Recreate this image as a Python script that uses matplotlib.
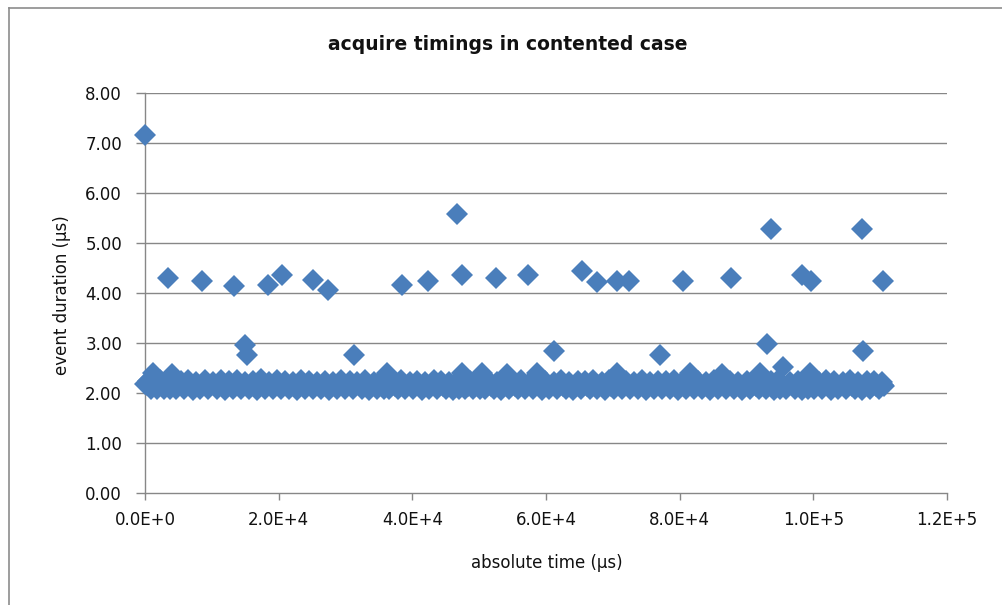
import numpy as np
import matplotlib
matplotlib.use("Agg")
import matplotlib.pyplot as plt
from matplotlib.lines import Line2D

# ---------------- data (time in thousands of microseconds, duration in microseconds) -------------
title_text = "acquire timings in contented case"
x_label = "absolute time (µs)"
y_label = "event duration (µs)"
x_tick_values = [0, 20000, 40000, 60000, 80000, 100000, 120000]
x_tick_labels = ["0.0E+0", "2.0E+4", "4.0E+4", "6.0E+4", "8.0E+4", "1.0E+5", "1.2E+5"]
y_tick_values = [0, 1, 2, 3, 4, 5, 6, 7, 8]
y_tick_labels = ["0.00", "1.00", "2.00", "3.00", "4.00", "5.00", "6.00", "7.00", "8.00"]

# dense band of ordinary acquisitions (time k-µs, duration µs)
band_points = [
    (0.0, 2.18), (0.5, 2.25), (0.9, 2.09), (1.2, 2.40), (1.8, 2.09), (2.3, 2.27), (2.9, 2.08), (3.6, 2.23),
    (3.8, 2.08), (4.0, 2.38), (4.7, 2.09), (5.4, 2.24), (5.9, 2.08), (6.5, 2.26), (7.2, 2.07), (7.7, 2.23),
    (8.3, 2.09), (9.0, 2.27), (9.5, 2.08),
    (10.1, 2.23), (10.8, 2.09), (11.3, 2.26), (11.9, 2.07), (12.6, 2.24), (13.1, 2.09), (13.7, 2.27),
    (14.4, 2.08), (14.9, 2.23), (15.5, 2.09), (16.2, 2.25), (16.7, 2.07), (17.3, 2.28), (18.0, 2.08),
    (18.5, 2.23), (19.1, 2.09), (19.8, 2.26),
    (20.3, 2.08), (20.9, 2.24), (21.6, 2.09), (22.1, 2.23), (22.7, 2.07), (23.4, 2.27), (23.9, 2.09),
    (24.5, 2.24), (25.2, 2.08), (25.7, 2.22), (26.3, 2.09), (27.0, 2.25), (27.5, 2.07), (28.1, 2.23),
    (28.8, 2.08), (29.3, 2.26), (29.9, 2.09),
    (30.6, 2.24), (31.1, 2.08), (31.7, 2.23), (32.4, 2.09), (32.9, 2.27), (33.5, 2.07), (34.2, 2.23),
    (34.7, 2.09), (35.3, 2.26), (35.7, 2.09), (36.2, 2.41), (36.5, 2.08), (37.1, 2.24), (37.8, 2.09),
    (38.3, 2.27), (38.9, 2.08), (39.6, 2.23),
    (40.1, 2.09), (40.7, 2.25), (41.4, 2.07), (41.9, 2.23), (42.5, 2.09), (43.2, 2.26), (43.7, 2.08),
    (44.3, 2.24), (45.0, 2.09), (45.5, 2.23), (46.1, 2.07), (46.8, 2.27), (47.0, 2.08), (47.4, 2.40),
    (47.9, 2.08), (48.6, 2.24), (49.1, 2.09), (49.7, 2.23),
    (50.1, 2.09), (50.4, 2.40), (50.9, 2.08), (51.5, 2.25), (52.2, 2.09), (52.7, 2.23), (53.3, 2.07),
    (54.2, 2.39), (54.5, 2.08), (55.1, 2.24), (55.8, 2.09), (56.3, 2.27), (56.9, 2.08), (57.6, 2.23),
    (58.1, 2.09), (58.7, 2.41), (59.4, 2.07), (59.9, 2.25),
    (60.5, 2.09), (61.2, 2.23), (61.7, 2.08), (62.3, 2.26), (63.0, 2.09), (63.5, 2.23), (64.1, 2.07),
    (64.8, 2.25), (65.3, 2.09), (65.9, 2.24), (66.6, 2.08), (67.1, 2.27), (67.7, 2.09), (68.4, 2.23),
    (68.9, 2.07), (69.5, 2.26),
    (70.2, 2.08), (70.6, 2.40), (71.3, 2.09), (72.0, 2.24), (72.5, 2.08), (73.1, 2.23), (73.8, 2.09),
    (74.3, 2.26), (74.9, 2.07), (75.6, 2.23), (76.1, 2.09), (76.7, 2.25), (77.4, 2.08), (77.9, 2.24),
    (78.5, 2.09), (79.2, 2.27), (79.7, 2.07),
    (80.3, 2.23), (81.0, 2.09), (81.5, 2.40), (82.1, 2.08), (82.8, 2.24), (83.3, 2.09), (83.9, 2.23),
    (84.6, 2.07), (85.1, 2.26), (85.7, 2.09), (86.3, 2.39), (86.9, 2.08), (87.5, 2.24), (88.2, 2.09),
    (88.7, 2.23), (89.3, 2.07),
    (90.0, 2.25), (90.5, 2.09), (91.1, 2.23), (91.8, 2.08), (92.0, 2.41), (92.9, 2.09), (93.6, 2.24),
    (94.1, 2.07), (94.7, 2.26), (95.0, 2.09), (95.5, 2.52), (95.9, 2.08), (96.5, 2.23), (97.2, 2.09),
    (97.7, 2.25), (98.3, 2.07), (99.0, 2.24), (99.2, 2.09), (99.5, 2.40),
    (100.1, 2.08), (100.8, 2.23), (101.3, 2.09), (101.9, 2.26), (102.6, 2.07), (103.1, 2.24),
    (103.7, 2.09), (104.4, 2.23), (104.9, 2.08), (105.5, 2.27), (106.2, 2.09), (106.7, 2.23),
    (107.3, 2.07), (108.0, 2.25), (108.5, 2.09), (109.1, 2.24), (109.8, 2.08), (110.3, 2.22),
    (110.6, 2.14),
]

# more ordinary acquisitions in the middle of the band
band_mid_points = [
    (0.3, 2.16), (1.5, 2.15), (2.6, 2.17), (3.3, 2.16), (4.4, 2.15), (5.6, 2.17), (6.8, 2.16),
    (8.0, 2.15), (9.3, 2.17), (10.4, 2.16), (11.6, 2.15), (12.9, 2.17), (14.1, 2.16), (15.2, 2.15),
    (16.4, 2.17), (17.6, 2.16), (18.8, 2.15), (20.0, 2.17), (21.2, 2.16), (22.4, 2.15), (23.6, 2.17),
    (24.8, 2.16), (26.0, 2.15), (27.2, 2.17), (28.4, 2.16), (29.6, 2.15), (30.9, 2.17), (32.1, 2.16),
    (33.2, 2.15), (34.5, 2.17), (35.9, 2.16), (37.4, 2.15), (38.6, 2.17), (39.9, 2.16), (41.1, 2.15),
    (42.2, 2.17), (43.4, 2.16), (44.6, 2.15), (45.8, 2.17), (47.1, 2.16), (48.3, 2.15), (49.4, 2.17),
    (50.6, 2.16), (51.8, 2.15), (53.0, 2.17), (53.8, 2.16), (55.4, 2.15), (56.6, 2.17), (57.8, 2.16),
    (59.0, 2.15), (60.2, 2.17), (61.4, 2.16), (62.6, 2.15), (63.8, 2.17), (65.0, 2.16), (66.2, 2.15),
    (67.4, 2.17), (68.6, 2.16), (69.8, 2.15), (70.9, 2.17), (72.2, 2.16), (73.4, 2.15), (74.6, 2.17),
    (75.9, 2.16), (77.1, 2.15), (78.2, 2.17), (79.4, 2.16), (80.6, 2.15), (81.8, 2.17), (83.0, 2.16),
    (84.2, 2.15), (85.4, 2.17), (86.6, 2.16), (87.8, 2.15), (89.0, 2.17), (90.2, 2.16), (91.4, 2.15),
    (92.6, 2.17), (93.8, 2.16), (95.2, 2.15), (96.2, 2.17), (97.4, 2.16), (98.6, 2.15), (99.8, 2.17),
    (101.0, 2.16), (102.2, 2.15), (103.4, 2.17), (104.6, 2.16), (105.8, 2.15), (107.0, 2.17),
    (108.2, 2.16), (109.4, 2.15), (110.4, 2.17),
]

# slow (contended) acquisitions
outlier_points = [
    (0.0, 7.16), (3.49, 4.31), (8.57, 4.25), (13.36, 4.15), (14.96, 2.96), (15.31, 2.76),
    (18.36, 4.16), (20.55, 4.37), (25.18, 4.26), (27.43, 4.07), (31.32, 2.76), (38.41, 4.16),
    (42.39, 4.25), (46.64, 5.59), (47.48, 4.36), (52.52, 4.31), (57.35, 4.36), (61.20, 2.84),
    (65.34, 4.45), (67.59, 4.23), (70.58, 4.24), (72.47, 4.24), (77.06, 2.76), (80.46, 4.24),
    (87.64, 4.31), (93.03, 2.99), (93.63, 5.28), (98.35, 4.36), (99.61, 4.24), (107.33, 5.28),
    (107.39, 2.84), (110.38, 4.24),
]

# ---------------- drawing ----------------
W, H = 1002, 605
fig = plt.figure(figsize=(W / 100, H / 100), dpi=100)
fig.patch.set_facecolor("white")

ax = fig.add_axes([145 / W, 112 / H, 802 / W, 400 / H])
ax.set_xlim(0, 120000)
ax.set_ylim(0, 8)

marker_color = "#4A7EBB"
grid_color = "#878787"

pts = band_points + band_mid_points + outlier_points
xs = np.array([p[0] for p in pts]) * 1000.0
ys = np.array([p[1] for p in pts])
ax.plot(xs, ys, linestyle="none", marker="D", markersize=11,
        markerfacecolor=marker_color, markeredgecolor=marker_color,
        markeredgewidth=0, clip_on=False, zorder=4)

ax.set_yticks(y_tick_values)
ax.set_yticklabels(y_tick_labels)
ax.set_xticks(x_tick_values)
ax.set_xticklabels(x_tick_labels)

for yv in y_tick_values[1:]:
    ax.axhline(yv, color=grid_color, linewidth=1.0, zorder=1)

for side in ("top", "right"):
    ax.spines[side].set_visible(False)
for side in ("left", "bottom"):
    ax.spines[side].set_color(grid_color)
    ax.spines[side].set_linewidth(1.0)
    ax.spines[side].set_zorder(2)

ax.tick_params(axis="y", direction="out", length=6.5, width=1, color=grid_color,
               pad=10, labelsize=12, labelcolor="#111111")
ax.tick_params(axis="x", direction="out", length=5, width=1, color=grid_color,
               pad=8, labelsize=12, labelcolor="#111111")
for lab in ax.get_xticklabels() + ax.get_yticklabels():
    lab.set_family(["DejaVu Sans"])

fig.text(508 / W, 1 - 45 / H, title_text, ha="center", va="center",
         fontsize=13.5, fontweight="bold",
         family=["Liberation Sans Narrow", "DejaVu Sans"], color="#111111")
fig.text(62 / W, 1 - 295 / H, y_label, ha="center", va="center", rotation=90,
         fontsize=12, family=["DejaVu Sans"], color="#111111")
fig.text(547 / W, 1 - 563 / H, x_label, ha="center", va="center",
         fontsize=12, family=["DejaVu Sans"], color="#111111")

# chart-area border (top and left visible)
border_color = "#8C8C8C"
fig.add_artist(Line2D([9 / W, 9 / W], [0, 1 - 8 / H], color=border_color, linewidth=1.2,
                      transform=fig.transFigure))
fig.add_artist(Line2D([9 / W, 1], [1 - 8 / H, 1 - 8 / H], color=border_color, linewidth=1.2,
                      transform=fig.transFigure))

fig.savefig("out.png", dpi=100, facecolor="white")
